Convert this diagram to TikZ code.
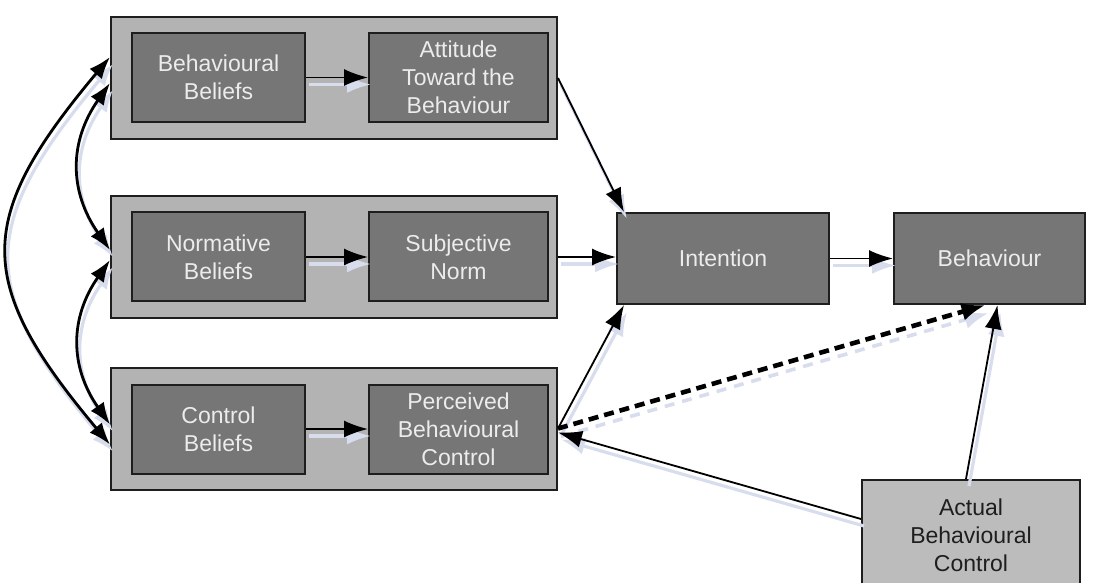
\documentclass[tikz,border=0pt]{standalone}
\usepackage{fontspec}
\setmainfont{Liberation Sans}
\usetikzlibrary{positioning, arrows.meta}

\definecolor{boxdark}{RGB}{118,118,118}
\definecolor{boxtext}{RGB}{236,236,236}
\definecolor{grouplight}{RGB}{179,179,179}
\definecolor{actuallight}{RGB}{188,188,188}
\definecolor{edgegray}{RGB}{30,30,30}
\definecolor{shadowblue}{RGB}{216,221,238}

\begin{document}
\begin{tikzpicture}[
  x=0.5pt, y=-0.5pt,
  group/.style={draw=edgegray, line width=1pt, fill=grouplight, minimum width=223pt, minimum height=61pt},
  box/.style={draw=edgegray, line width=1pt, fill=boxdark, text=boxtext, align=center, minimum height=44.5pt, font=\fontsize{11.5}{14}\selectfont},
  shadowed/.style={preaction={draw=shadowblue, line width=1.6pt, transform canvas={shift={(1.5pt,-3.5pt)}}}},
  arrow/.style={-{Latex[length=12pt,width=8.5pt]}, line width=0.9pt, shadowed},
  dblarrow/.style={{Latex[length=11pt,width=8pt]}-{Latex[length=11pt,width=8pt]}, line width=1.4pt, shadowed},
  dasharrow/.style={-{Latex[length=12pt,width=9pt]}, line width=2.3pt, dash pattern=on 5pt off 3pt,
    preaction={draw=shadowblue, line width=1.8pt, dash pattern=on 5pt off 4pt, transform canvas={shift={(1.5pt,-4pt)}}}}
]
  \useasboundingbox (0,0) rectangle (1094,583);

  % grey group frames
  \node[group] (top) at (334,78) {};
  \node[group] (mid) at (334,257) {};
  \node[group] (bot) at (334,428.5) {};

  % beliefs and their outcomes
  \node[box, minimum width=86.5pt] (bb) at (218.5,77.5) {Behavioural\\Beliefs};
  \node[box, minimum width=89.5pt, right=31pt of bb] (att) {Attitude\\Toward the\\Behaviour};
  \node[box, minimum width=86.5pt] (nb) at (218.5,257) {Normative\\Beliefs};
  \node[box, minimum width=89.5pt, right=31pt of nb] (sn) {Subjective\\Norm};
  \node[box, minimum width=86.5pt] (cb) at (218.5,429) {Control\\Beliefs};
  \node[box, minimum width=89.5pt, right=31pt of cb] (pbc) {Perceived\\Behavioural\\Control};

  % intention and behaviour
  \node[box, minimum width=106pt, minimum height=45.5pt] (int) at (723,258.5) {Intention};
  \node[box, minimum width=95.5pt, minimum height=45.5pt, right=31.5pt of int] (beh) {Behaviour};
  \node[box, fill=actuallight, text=edgegray, minimum width=109pt, minimum height=55pt] (abc) at (971,535) {Actual\\Behavioural\\Control};

  % arrows inside the frames
  \draw[arrow] (bb) -- (att);
  \draw[arrow] (nb) -- (sn);
  \draw[arrow] (cb) -- (pbc);

  % correlations between belief sets
  \draw[dblarrow] ([yshift=10.5pt]top.west) to[out=230, in=130, looseness=1.4] ([yshift=-8pt]bot.west);
  \draw[dblarrow] ([yshift=-2.5pt]top.west) to[out=235, in=125, looseness=1.1] ([yshift=3.5pt]mid.west);
  \draw[dblarrow] ([yshift=-1.5pt]mid.west) to[out=235, in=125, looseness=1.1] ([yshift=2pt]bot.west);

  % towards intention and behaviour
  \draw[arrow] (top.east) -- ([xshift=4pt]int.north west);
  \draw[arrow] (mid.east) -- (mid.east -| int.west);
  \draw[arrow] (bot.east) -- ([xshift=4pt]int.south west);
  \draw[arrow] (int) -- (beh);
  \draw[dasharrow] (bot.east) -- ([xshift=-2pt]beh.south);
  \draw[arrow] ([xshift=-2.5pt]abc.north) -- ([xshift=4pt]beh.south);
  \draw[arrow] ([yshift=8pt]abc.west) -- ([yshift=-2pt]bot.east);
\end{tikzpicture}
\end{document}
